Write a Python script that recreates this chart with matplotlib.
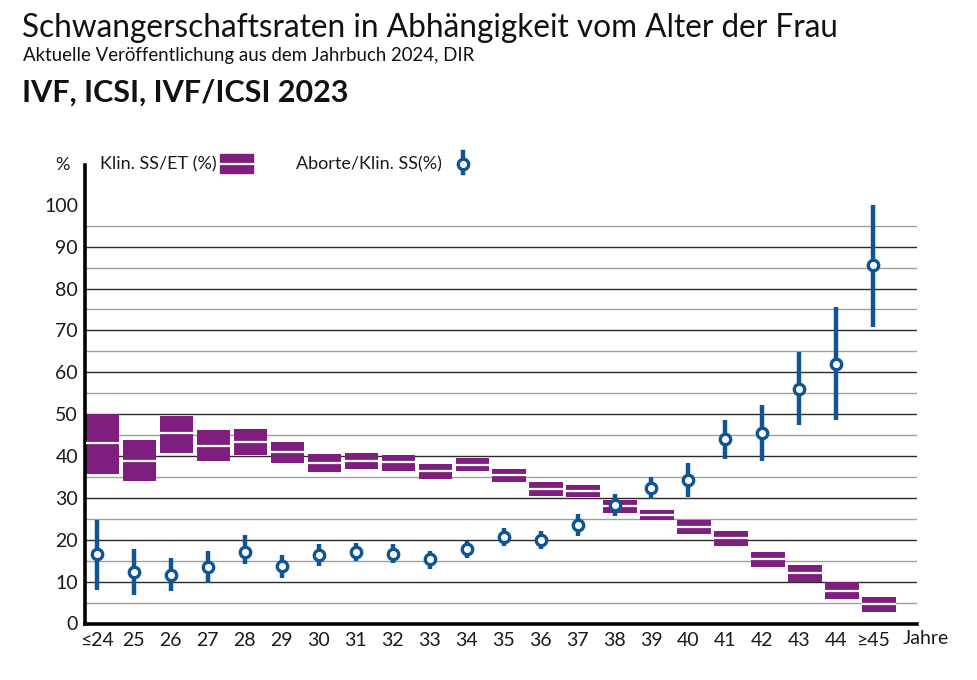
import matplotlib
matplotlib.use('Agg')
from matplotlib import pyplot as plt
from matplotlib.patches import Rectangle
from matplotlib.lines import Line2D

plt.rcParams['font.family'] = ['Lato', 'DejaVu Sans']

ages = ['≤24', '25', '26', '27', '28', '29', '30', '31', '32', '33', '34',
        '35', '36', '37', '38', '39', '40', '41', '42', '43', '44', '≥45']

# Klin. SS/ET (%) - Konfidenzbereich und Mittelwert
ss_low = [35.6, 34.0, 40.8, 38.7, 40.3, 38.3, 36.1, 36.8, 36.5, 34.5, 36.4,
          33.8, 30.5, 30.2, 26.5, 24.7, 21.3, 18.5, 13.5, 10.0, 5.8, 2.8]
ss_mid = [43.0, 38.9, 45.4, 42.5, 43.4, 40.9, 38.3, 38.7, 38.5, 36.4, 37.9,
          35.4, 32.1, 31.7, 28.0, 25.8, 23.1, 20.3, 15.3, 12.0, 7.8, 4.6]
ss_high = [50.0, 43.9, 49.6, 46.3, 46.4, 43.4, 40.5, 40.6, 40.2, 38.1, 39.5,
           37.0, 33.7, 33.1, 29.6, 27.0, 24.8, 22.0, 17.1, 14.0, 9.9, 6.4]

# Aborte/Klin. SS (%)
ab_mid = [16.6, 12.2, 11.5, 13.5, 17.0, 13.7, 16.4, 17.1, 16.5, 15.3, 17.7,
          20.7, 20.0, 23.6, 28.2, 32.4, 34.3, 44.1, 45.5, 56.0, 62.0, 85.5]
ab_low = [8.1, 6.7, 7.7, 9.6, 14.2, 10.8, 13.8, 14.9, 14.4, 13.1, 15.6,
          18.6, 17.7, 21.0, 25.6, 29.8, 30.3, 39.3, 38.7, 47.4, 48.7, 70.7]
ab_high = [24.6, 17.7, 15.7, 17.2, 21.1, 16.3, 19.1, 19.3, 18.9, 17.3, 19.6,
           22.8, 22.1, 26.1, 31.0, 34.9, 38.3, 48.7, 52.1, 64.8, 75.6, 100.0]

purple = '#7e1f7f'
blue = '#0f5494'

W, H = 978, 680
fig = plt.figure(figsize=(W / 100, H / 100), dpi=100)
ax = fig.add_axes([85 / W, (H - 623.5) / H, (917 - 85) / W, (623.5 - 165) / H])

x = list(range(len(ages)))
ax.set_xlim(-0.32, 22.18)
ax.set_ylim(0, 109.5)

# Gitterlinien: 10er dunkel, 5er grau
for v in range(5, 100, 5):
    ax.axhline(v, color='#2b2b2b' if v % 10 == 0 else '#a0a0a0', lw=1.0, zorder=1)

# Balken fuer Klin. SS/ET, leicht nach rechts versetzt
bx = [i + 0.15 for i in x]
heights = [h - l for h, l in zip(ss_high, ss_low)]
ax.bar(bx, heights, bottom=ss_low, width=0.9, color=purple, zorder=2)
ax.hlines(ss_mid, [b - 0.45 for b in bx], [b + 0.45 for b in bx],
          color='white', lw=1.6, zorder=3)

# Aborte mit Fehlerbalken
ax.vlines(x, ab_low, ab_high, color=blue, lw=3.2, zorder=4)
ax.plot(x, ab_mid, 'o', ms=7.5, mfc='white', mec=blue, mew=2.4, zorder=5)

for s in ['top', 'right']:
    ax.spines[s].set_visible(False)
for s in ['left', 'bottom']:
    ax.spines[s].set_linewidth(2.6)
    ax.spines[s].set_color('black')

ax.set_xticks(x)
ax.set_xticklabels(ages)
ax.set_yticks(range(0, 101, 10))
ax.tick_params(axis='both', length=0, labelsize=14, colors='#1a1a1a')
ax.tick_params(axis='x', pad=6)
ax.tick_params(axis='y', pad=5)

fig.text(903 / W, 1 - 644 / H, 'Jahre', fontsize=14, va='baseline', color='#1a1a1a')
fig.text(62 / W, 1 - 169.5 / H, '%', fontsize=13, ha='center', va='baseline', color='#1a1a1a')

# Legende von Hand
fig.text(100 / W, 1 - 169.5 / H, 'Klin. SS/ET (%)', fontsize=13, va='baseline', color='#1a1a1a')
fig.patches.append(Rectangle((220 / W, 1 - 172.7 / H), 33 / W, 18.7 / H,
                             transform=fig.transFigure, color=purple))
fig.lines.append(Line2D([220 / W, 253 / W], [1 - 163.5 / H] * 2,
                        transform=fig.transFigure, color='white', lw=1.6))
fig.text(296 / W, 1 - 169.5 / H, 'Aborte/Klin. SS(%)', fontsize=13, va='baseline', color='#1a1a1a')
fig.lines.append(Line2D([463 / W, 463 / W], [1 - 152 / H, 1 - 173 / H],
                        transform=fig.transFigure, color=blue, lw=3.2))
fig.lines.append(Line2D([463 / W], [1 - 164 / H], transform=fig.transFigure,
                        marker='o', ms=7.5, mfc='white', mec=blue, mew=2.4))

# Titel
fig.text(22 / W, 1 - 37 / H, 'Schwangerschaftsraten in Abhängigkeit vom Alter der Frau',
         fontsize=22.7, va='baseline', color='#111111')
fig.text(23 / W, 1 - 61 / H, 'Aktuelle Veröffentlichung aus dem Jahrbuch 2024, DIR',
         fontsize=13.4, va='baseline', color='#111111')
fig.text(22 / W, 1 - 101.5 / H, 'IVF, ICSI, IVF/ICSI 2023',
         fontsize=22, fontweight='bold', va='baseline', color='#111111')

fig.savefig('out.png', dpi=100)
